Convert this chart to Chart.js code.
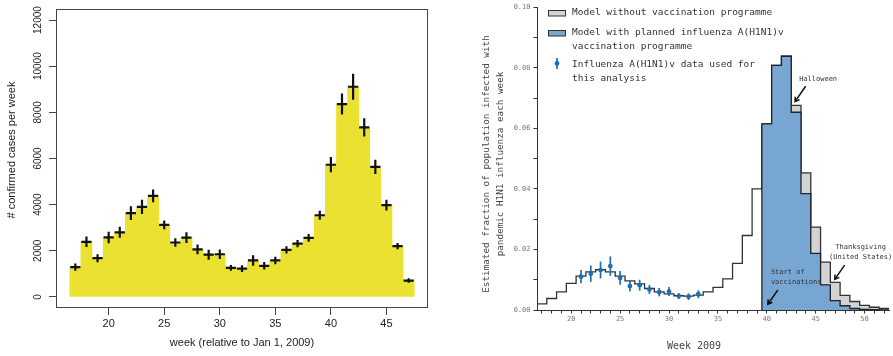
<!DOCTYPE html>
<html>
<head>
<meta charset="utf-8">
<script src="https://cdn.jsdelivr.net/npm/chart.js@4.4.1/dist/chart.umd.min.js"></script>
<style>
  html, body { margin: 0; padding: 0; background: #fff; }
  #wrap { position: relative; width: 893px; height: 356px; }
  #cases_canvas { position: absolute; left: 0; top: 0; }
  #model_canvas { position: absolute; left: 440px; top: 0; }
</style>
</head>
<body>
<div id="wrap">
  <canvas id="cases_canvas" width="440" height="356"></canvas>
  <canvas id="model_canvas" width="453" height="356"></canvas>
</div>
<script>
// left panel: confirmed cases per week
const case_weeks = [17, 18, 19, 20, 21, 22, 23, 24, 25, 26, 27, 28, 29, 30, 31, 32,
  33, 34, 35, 36, 37, 38, 39, 40, 41, 42, 43, 44, 45, 46, 47];
const confirmed_cases = [1290, 2390, 1680, 2580, 2800, 3630, 3900, 4380, 3120, 2360,
  2570, 2060, 1830, 1850, 1260, 1230, 1580, 1350, 1580, 2040, 2310, 2560, 3540,
  5730, 8360, 9110, 7350, 5640, 3980, 2200, 710];
const cases_error = [160, 230, 175, 250, 240, 300, 310, 275, 190, 180, 230, 215, 215,
  210, 120, 145, 230, 160, 160, 160, 160, 165, 200, 330, 455, 560, 400, 310, 230,
  135, 95];
const case_x_ticks = [20, 25, 30, 35, 40, 45];
const case_y_ticks = [0, 2000, 4000, 6000, 8000, 10000, 12000];

// right panel: modelled fraction infected each week
const model_weeks = [17, 18, 19, 20, 21, 22, 23, 24, 25, 26, 27, 28, 29, 30, 31, 32,
  33, 34, 35, 36, 37, 38, 39, 40, 41, 42, 43, 44, 45, 46, 47, 48, 49, 50, 51, 52];
const model_without_vaccine = [0.0020, 0.0038, 0.0060, 0.0088, 0.0112, 0.0126, 0.0133,
  0.0126, 0.0112, 0.0096, 0.0086, 0.0071, 0.0060, 0.0053, 0.0047, 0.0046, 0.0049,
  0.0060, 0.0075, 0.0103, 0.0154, 0.0246, 0.0400, 0.0615, 0.0808, 0.0838, 0.0676,
  0.0453, 0.0274, 0.0158, 0.0091, 0.0048, 0.0028, 0.0015, 0.0009, 0.0005];
const vaccine_weeks = [40, 41, 42, 43, 44, 45, 46, 47, 48, 49, 50, 51, 52];
const model_with_vaccine = [0.0615, 0.0808, 0.0838, 0.0653, 0.0384, 0.0187, 0.0083,
  0.0031, 0.0014, 0.0005, 0.0002, 0.0001, 0.0000];
const data_weeks = [21, 22, 23, 24, 25, 26, 27, 28, 29, 30, 31, 32, 33];
const data_fraction = [0.0110, 0.0120, 0.0132, 0.0145, 0.0106, 0.0079, 0.0082, 0.0068,
  0.0059, 0.0061, 0.0046, 0.0044, 0.0052];
const data_error = [0.0022, 0.0027, 0.0028, 0.0032, 0.0023, 0.0018, 0.0018, 0.0015,
  0.0014, 0.0015, 0.0010, 0.0011, 0.0013];
const model_x_ticks = model_weeks;
const model_y_ticks = [0, 0.01, 0.02, 0.03, 0.04, 0.05, 0.06, 0.07, 0.08, 0.09, 0.10];
const vaccination_start = 39.5;

// annotations, in data units of the right panel
const notes = [
  { lines: ['Halloween'], x: 45.25, y: 0.0761, align: 'center', arrow: [43.97, 0.0739, 42.89, 0.0688] },
  { lines: ['Thanksgiving', '(United States)'], x: 49.6, y: 0.0207, align: 'center', arrow: [47.96, 0.0148, 46.95, 0.0101] },
  { lines: ['Start of', 'vaccinations'], x: 40.42, y: 0.0124, align: 'left', arrow: [41.13, 0.0066, 40.11, 0.0019] },
];

const sans = '"Liberation Sans", Arial, sans-serif';
const mono = '"DejaVu Sans Mono", monospace';
const case_yellow = '#ebe131';
const fill_grey = '#d3d3d3';
const fill_blue = '#78a6d3';
const point_blue = '#1f6db6';

/**
 * Turns weekly values into points for a stepped line, one point on each
 * bin edge, so each week spans week - 0.5 to week + 0.5.
 */
function step_points(weeks, values, from_zero) {
  const points = [];
  if (from_zero) {
    points.push({ x: weeks[0] - 0.5, y: 0 });
  }
  weeks.forEach((week, i) => points.push({ x: week - 0.5, y: values[i] }));
  const last = weeks.length - 1;
  points.push({ x: weeks[last] + 0.5, y: values[last] });
  return points;
}

function draw_arrow(ctx, x1, y1, x2, y2) {
  const angle = Math.atan2(y2 - y1, x2 - x1);
  ctx.beginPath();
  ctx.moveTo(x1, y1);
  ctx.lineTo(x2, y2);
  ctx.moveTo(x2 - 5 * Math.cos(angle - 0.55), y2 - 5 * Math.sin(angle - 0.55));
  ctx.lineTo(x2, y2);
  ctx.lineTo(x2 - 5 * Math.cos(angle + 0.55), y2 - 5 * Math.sin(angle + 0.55));
  ctx.stroke();
}

const case_extras = {
  id: 'case_extras',
  afterDatasetsDraw(chart) {
    const { ctx, chartArea, scales: { x, y } } = chart;
    ctx.save();
    // error crosses
    ctx.strokeStyle = '#111';
    ctx.lineWidth = 2.2;
    case_weeks.forEach((week, i) => {
      const mid = x.getPixelForValue(week);
      const level = y.getPixelForValue(confirmed_cases[i]);
      ctx.beginPath();
      ctx.moveTo(x.getPixelForValue(week - 0.46), level);
      ctx.lineTo(x.getPixelForValue(week + 0.46), level);
      ctx.moveTo(mid, y.getPixelForValue(confirmed_cases[i] + cases_error[i]));
      ctx.lineTo(mid, y.getPixelForValue(confirmed_cases[i] - cases_error[i]));
      ctx.stroke();
    });
    // box round the plot
    ctx.strokeStyle = '#444';
    ctx.lineWidth = 1;
    ctx.strokeRect(chartArea.left + 0.5, chartArea.top + 0.5, chartArea.width - 1, chartArea.height - 1);
    // y tick labels, parallel to the axis
    ctx.fillStyle = '#222';
    ctx.font = '10px ' + sans;
    ctx.textAlign = 'center';
    ctx.textBaseline = 'middle';
    for (const tick of y.ticks) {
      ctx.save();
      ctx.translate(38, y.getPixelForValue(tick.value));
      ctx.rotate(-Math.PI / 2);
      ctx.fillText(String(tick.value), 0, 0);
      ctx.restore();
    }
    ctx.font = '11px ' + sans;
    ctx.translate(12, 150);
    ctx.rotate(-Math.PI / 2);
    ctx.fillText('# confirmed cases per week', 0, 0);
    ctx.restore();
  }
};

const model_extras = {
  id: 'model_extras',
  afterDatasetsDraw(chart) {
    const { ctx, scales: { x, y } } = chart;
    ctx.save();
    ctx.strokeStyle = point_blue;
    ctx.lineWidth = 1.7;
    data_weeks.forEach((week, i) => {
      const px = x.getPixelForValue(week);
      ctx.beginPath();
      ctx.moveTo(px, y.getPixelForValue(data_fraction[i] - data_error[i]));
      ctx.lineTo(px, y.getPixelForValue(data_fraction[i] + data_error[i]));
      ctx.stroke();
    });
    ctx.restore();
  },
  afterDraw(chart) {
    const { ctx, chartArea, scales: { x, y } } = chart;
    ctx.save();
    ctx.textBaseline = 'middle';

    // annotations
    ctx.font = '7px ' + mono;
    ctx.fillStyle = '#333';
    ctx.strokeStyle = '#111';
    ctx.lineWidth = 1.5;
    for (const note of notes) {
      ctx.textAlign = note.align;
      note.lines.forEach((line, k) => {
        ctx.fillText(line, x.getPixelForValue(note.x), y.getPixelForValue(note.y) + k * 9.6);
      });
      const [x1, y1, x2, y2] = note.arrow;
      draw_arrow(ctx, x.getPixelForValue(x1), y.getPixelForValue(y1), x.getPixelForValue(x2), y.getPixelForValue(y2));
    }

    // legend
    const box_left = chartArea.left + 11.5;
    const text_left = chartArea.left + 35;
    ctx.font = '9.5px ' + mono;
    ctx.textAlign = 'left';
    ctx.lineWidth = 1;
    ctx.strokeStyle = '#333';
    ctx.fillStyle = fill_grey;
    ctx.fillRect(box_left, 10.5, 17, 5.5);
    ctx.strokeRect(box_left, 10.5, 17, 5.5);
    ctx.fillStyle = fill_blue;
    ctx.fillRect(box_left, 30.5, 17, 5.5);
    ctx.strokeRect(box_left, 30.5, 17, 5.5);
    ctx.strokeStyle = point_blue;
    ctx.fillStyle = point_blue;
    ctx.lineWidth = 1.7;
    ctx.beginPath();
    ctx.moveTo(box_left + 8.5, 58);
    ctx.lineTo(box_left + 8.5, 69);
    ctx.stroke();
    ctx.beginPath();
    ctx.arc(box_left + 8.5, 63.5, 2.4, 0, 2 * Math.PI);
    ctx.fill();
    ctx.fillStyle = '#333';
    ctx.fillText('Model without vaccination programme', text_left, 12.5);
    ctx.fillText('Model with planned influenza A(H1N1)v', text_left, 32.7);
    ctx.fillText('vaccination programme', text_left, 46.7);
    ctx.fillText('Influenza A(H1N1)v data used for', text_left, 65);
    ctx.fillText('this analysis', text_left, 79);

    // axis titles
    ctx.fillStyle = '#444';
    ctx.textAlign = 'center';
    ctx.font = '10px ' + mono;
    ctx.fillText('Week 2009', 254, 346);
    ctx.font = '9.3px ' + mono;
    ctx.translate(47, 164);
    ctx.rotate(-Math.PI / 2);
    ctx.fillText('Estimated fraction of population infected with', 0, 0);
    ctx.fillText('pandemic H1N1 influenza each week', 0, 14);
    ctx.restore();
  }
};

new Chart(document.getElementById('cases_canvas'), {
  type: 'bar',
  data: {
    datasets: [{
      data: case_weeks.map((week, i) => ({ x: week, y: confirmed_cases[i] })),
      backgroundColor: case_yellow,
      borderWidth: 0,
      barPercentage: 1,
      categoryPercentage: 1
    }]
  },
  options: {
    responsive: false,
    animation: false,
    events: [],
    layout: { padding: { top: 9, right: 12, left: 0, bottom: 0 } },
    plugins: { legend: { display: false }, tooltip: { enabled: false } },
    scales: {
      x: {
        type: 'linear',
        offset: false,
        min: 15.26,
        max: 48.74,
        afterBuildTicks: (scale) => { scale.ticks = case_x_ticks.map(value => ({ value })); },
        afterFit: (scale) => { scale.height = 48; },
        grid: { offset: false, drawOnChartArea: false, tickLength: 7, color: '#444' },
        border: { display: false },
        ticks: { color: '#222', font: { family: sans, size: 11 }, padding: 2, maxRotation: 0, autoSkip: false },
        title: {
          display: true,
          text: 'week (relative to Jan 1, 2009)',
          color: '#222',
          font: { family: sans, size: 11 },
          padding: { top: 0, bottom: 6 }
        }
      },
      y: {
        min: -480,
        max: 12480,
        afterBuildTicks: (scale) => { scale.ticks = case_y_ticks.map(value => ({ value })); },
        afterFit: (scale) => { scale.width = 56; },
        grid: { drawOnChartArea: false, tickLength: 7, color: '#444' },
        border: { display: false },
        ticks: { display: false }
      }
    }
  },
  plugins: [case_extras]
});

new Chart(document.getElementById('model_canvas'), {
  type: 'line',
  data: {
    datasets: [
      {
        type: 'scatter',
        data: data_weeks.map((week, i) => ({ x: week, y: data_fraction[i] })),
        pointRadius: 2.4,
        pointBackgroundColor: point_blue,
        pointBorderWidth: 0,
        order: 1
      },
      {
        data: step_points(vaccine_weeks, model_with_vaccine, true),
        stepped: true,
        fill: 'origin',
        backgroundColor: fill_blue,
        borderColor: '#222',
        borderWidth: 1.3,
        pointRadius: 0,
        order: 2
      },
      {
        data: step_points(model_weeks, model_without_vaccine, false),
        stepped: true,
        fill: 'origin',
        backgroundColor: fill_grey,
        segment: {
          backgroundColor: (ctx) => ctx.p0.parsed.x < vaccination_start ? 'rgba(255,255,255,0)' : fill_grey
        },
        borderColor: '#333',
        borderWidth: 1.3,
        pointRadius: 0,
        order: 3
      }
    ]
  },
  options: {
    responsive: false,
    animation: false,
    events: [],
    layout: { padding: { top: 6, right: 2, left: 0, bottom: 0 } },
    plugins: { legend: { display: false }, tooltip: { enabled: false } },
    scales: {
      x: {
        type: 'linear',
        min: 16.5,
        max: 52.5,
        afterBuildTicks: (scale) => { scale.ticks = model_x_ticks.map(value => ({ value })); },
        afterFit: (scale) => { scale.height = 46; },
        grid: { drawOnChartArea: false, tickLength: 3.5, color: '#333' },
        border: { color: '#333', width: 1 },
        ticks: {
          color: '#777',
          font: { family: mono, size: 7 },
          padding: 1,
          maxRotation: 0,
          autoSkip: false,
          callback: (value) => value % 5 === 0 ? String(value) : ''
        }
      },
      y: {
        min: 0,
        max: 0.1,
        afterBuildTicks: (scale) => { scale.ticks = model_y_ticks.map(value => ({ value })); },
        afterFit: (scale) => { scale.width = 97; },
        grid: { drawOnChartArea: false, tickLength: 3.5, color: '#333' },
        border: { color: '#333', width: 1 },
        ticks: {
          color: '#777',
          font: { family: mono, size: 7 },
          padding: 3,
          callback: (value) => Math.round(value * 100) % 2 === 0 ? value.toFixed(2) : ''
        }
      }
    }
  },
  plugins: [model_extras]
});
</script>
</body>
</html>
